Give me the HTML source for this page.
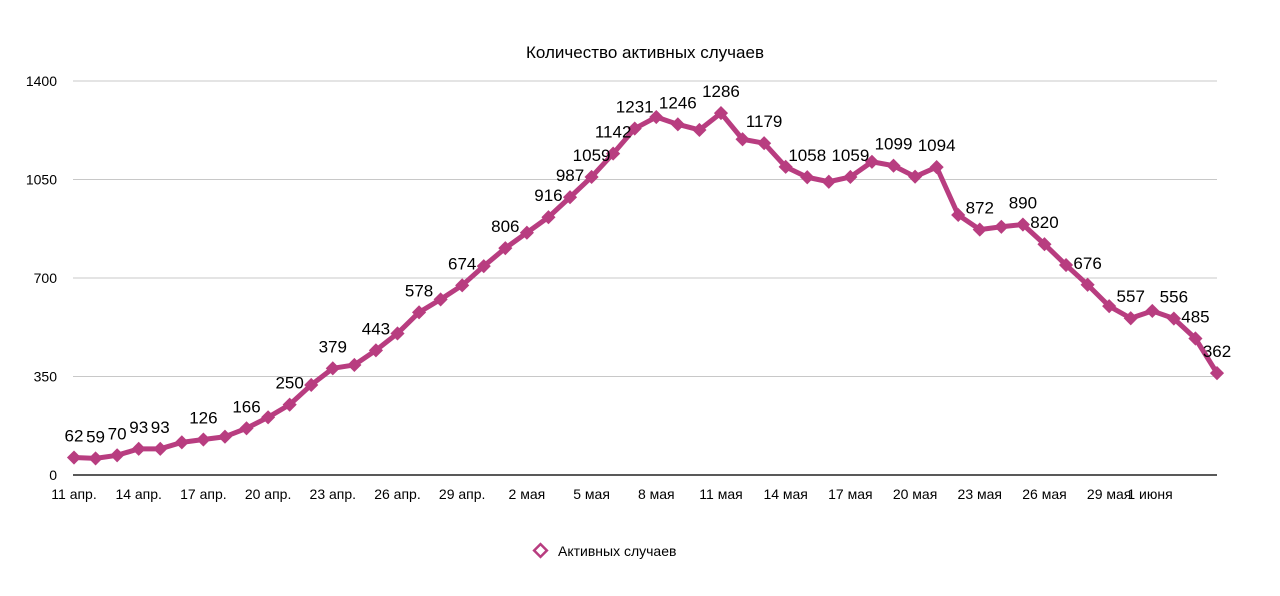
<!DOCTYPE html>
<html><head><meta charset="utf-8"><style>
body{margin:0;background:#fff;}
svg{display:block;font-family:"Liberation Sans",sans-serif;}
</style></head><body>
<svg id="chart" width="1280" height="596" viewBox="0 0 1280 596">
<text x="645" y="58" font-size="17" text-anchor="middle" fill="#000">Количество активных случаев</text>
<g id="grid"></g><g id="xaxis"></g><g id="series"></g><g id="labels"></g>
<g>
<rect x="536" y="546" width="9" height="9" transform="rotate(45 540.5 550.5)" fill="#fff" stroke="#b83d80" stroke-width="2.5"/>
<text x="558" y="556" font-size="14" fill="#000">Активных случаев</text>
</g>
</svg>
<script>
const values=[62,59,70,93,93,116,126,136,166,205,250,320,379,391,443,503,578,624,674,742,806,861,916,987,1059,1142,1231,1272,1246,1226,1286,1193,1179,1095,1058,1042,1059,1113,1099,1060,1094,924,872,882,890,820,746,676,600,557,583,556,485,362];
const labeledIdx=[0,1,2,3,4,6,8,10,12,14,16,18,20,22,23,24,25,26,28,30,32,34,36,38,40,42,44,45,47,49,51,52,53];
const yTicks=[0,350,700,1050,1400];
const xTickLabels=["11 апр.","14 апр.","17 апр.","20 апр.","23 апр.","26 апр.","29 апр.","2 мая","5 мая","8 мая","11 мая","14 мая","17 мая","20 мая","23 мая","26 мая","29 мая","1 июня"];
const NS="http://www.w3.org/2000/svg";
const x0=74,x1=1217,yB=475,yT=81;
const X=i=>x0+i*(x1-x0)/(values.length-1);
const Y=v=>yB-(v/1400)*(yB-yT);
function mk(tag,attrs,parent){const e=document.createElementNS(NS,tag);for(const k in attrs)e.setAttribute(k,attrs[k]);parent.appendChild(e);return e;}
const grid=document.getElementById('grid');
yTicks.forEach(t=>{
 const l=mk('line',{x1:73,x2:1217,y1:Y(t),y2:Y(t),stroke:t===0?'#222':'#c8c8c8','stroke-width':t===0?1.5:1},grid);
 
 
 const tx=mk('text',{x:57,y:Y(t)+5,'font-size':14,'text-anchor':'end',fill:'#000'},grid);
 
 
 tx.textContent=t;
});
const xa=document.getElementById('xaxis');
xTickLabels.forEach((s,k)=>{
 let cx=X(k*3); if(cx>1150)cx=1150;
 const tx=mk('text',{x:cx,y:499,'font-size':14,'text-anchor':'middle',fill:'#000'},xa);
 
 
 tx.textContent=s;
});
const sg=document.getElementById('series');
const pts=values.map((v,i)=>X(i)+','+Y(v)).join(' ');
const pl=mk('polyline',{points:pts,fill:'none',stroke:'#b83d80','stroke-width':5,'stroke-linejoin':'round'},sg);


values.forEach((v,i)=>{
 const cx=X(i),cy=Y(v);
 const m=mk('rect',{x:cx-5,y:cy-5,width:10,height:10,fill:'#b83d80',transform:`rotate(45 ${cx} ${cy})`},sg);
 
 
});
const lg=document.getElementById('labels');
labeledIdx.forEach(i=>{
 const t=mk('text',{x:X(i),y:Y(values[i])-16,'font-size':17,'text-anchor':'middle',fill:'#000'},lg);
 
 
 t.textContent=values[i];
});
</script>
</body></html>
